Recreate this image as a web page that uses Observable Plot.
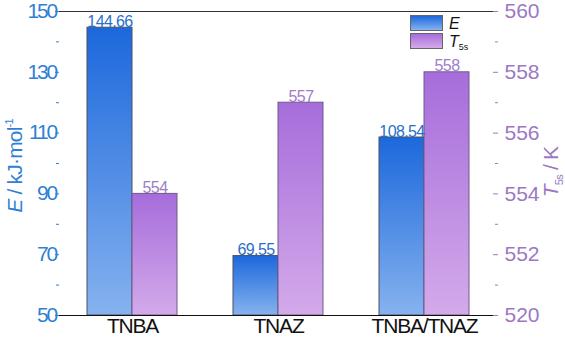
<!DOCTYPE html>
<html><head><meta charset="utf-8">
<script src="https://cdn.jsdelivr.net/npm/d3@7"></script>
<script src="https://cdn.jsdelivr.net/npm/@observablehq/plot@0.6"></script>
<style>
body{margin:0;background:#fff;font-family:"Liberation Sans",Arial,sans-serif}
#chart{position:relative;width:565px;height:339px}
#legend{position:absolute;left:410px;top:14px;font-size:16px;color:#111}
.row{display:flex;align-items:center;height:18px}
.sw{width:31px;height:14px;border:1px solid #666;margin-right:6px}
.swE{background:linear-gradient(#1c68dc,#86b2ef)}
.swT{background:linear-gradient(#a66ddb,#d4aaea)}
.lbl{font-style:italic;line-height:15px;height:15px}
.lbl sub{font-style:normal;font-size:9px;vertical-align:-3px;line-height:0}
</style></head><body><div id="chart"><div id="legend">
<div class="row"><div class="sw swE"></div><span class="lbl">E</span></div>
<div class="row"><div class="sw swT"></div><span class="lbl">T<sub>5s</sub></span></div>
</div></div>
<script>
const categories = ["TNBA", "TNAZ", "TNBA/TNAZ"];
const eValues = [144.66, 69.55, 108.54];
const tValues = [554, 557, 558];
const eLabels = ["144.66", "69.55", "108.54"];
const tLabels = ["554", "557", "558"];
const leftTicks = [50, 70, 90, 110, 130, 150];
const leftMinor = [60, 80, 100, 120, 140];
const rightTickValues = [550, 552, 554, 556, 558, 560];
const rightTickLabels = ["520", "552", "554", "556", "558", "560"];
const rightMinor = [551, 553, 555, 557, 559];

const blue = "#2f7fd6", purple = "#9c78c4";
// right axis (550–560) mapped onto the left scale (50–150)
const tToY = t => 50 + (t - 550) * 10;

const eRows = categories.map((c, i) => ({cat: c, series: "E", y: eValues[i], label: eLabels[i]}));
const tRows = categories.map((c, i) => ({cat: c, series: "T", y: tToY(tValues[i]), label: tLabels[i]}));
const rightPos = rightTickValues.map(tToY);

const chart = Plot.plot({
  width: 565, height: 339,
  marginLeft: 59, marginRight: 68, marginTop: 11, marginBottom: 24,
  style: {fontFamily: '"Liberation Sans", Arial, sans-serif', background: "transparent", overflow: "visible"},
  fx: {domain: categories, padding: 0, label: null},
  x: {domain: ["E", "T"], paddingInner: 0, paddingOuter: 0.587, axis: null},
  y: {domain: [50, 150], axis: null},
  marks: [
    Plot.barY(eRows, {fx: "cat", x: "series", y1: 50, y2: "y", fill: "url(#gE)", stroke: "#4a5060", strokeWidth: 1}),
    Plot.barY(tRows, {fx: "cat", x: "series", y1: 50, y2: "y", fill: "url(#gT)", stroke: "#6e5a8a", strokeWidth: 1}),
    Plot.text(eRows, {fx: "cat", x: "series", y: "y", text: "label", lineAnchor: "bottom", dy: -1, fill: "#2a6fcc", fontSize: 16}),
    Plot.text(tRows, {fx: "cat", x: "series", y: "y", text: "label", lineAnchor: "bottom", dy: -1, fill: "#a07cc8", fontSize: 16}),
    Plot.ruleY([150], {stroke: "#333"}),
    Plot.ruleY([50], {stroke: "#111"}),
    Plot.axisFx({anchor: "bottom", label: null, tickSize: 0, tickPadding: 3, fontSize: 21, color: "#111"}),
    Plot.axisY({anchor: "left", ticks: leftTicks, tickSize: 4, tickPadding: 0, fontSize: 21, color: blue, line: true, label: null}),
    Plot.axisY({anchor: "left", ticks: leftMinor, tickSize: 3, tickFormat: () => "", color: blue, label: null}),
    Plot.axisY({anchor: "right", ticks: rightPos, tickSize: 0, tickPadding: 7, fontSize: 21, color: purple, line: true, label: null,
      tickFormat: d => rightTickLabels[rightPos.indexOf(d)]}),
    Plot.axisY({anchor: "right", ticks: rightPos, tickSize: -5, tickFormat: () => "", color: purple, label: null}),
    Plot.axisY({anchor: "right", ticks: rightMinor.map(tToY), tickSize: -3, tickFormat: () => "", color: purple, label: null})
  ]
});

const svg = d3.select(chart);
// condense texts (the reference uses a narrow face)
const yLabelGroups = svg.selectAll('g[aria-label="y-axis tick label"]').nodes();
if (yLabelGroups[0]) d3.select(yLabelGroups[0]).attr("letter-spacing", -2.2).attr("transform", "translate(-3,0)");
if (yLabelGroups[1]) d3.select(yLabelGroups[1]).attr("letter-spacing", -1.2);
svg.selectAll('g[aria-label="fx-axis tick label"]').attr("letter-spacing", -1.2);
svg.selectAll('g[aria-label="text"]').attr("letter-spacing", -0.6);

const defs = svg.insert("defs", ":first-child");
const gE = defs.append("linearGradient").attr("id", "gE").attr("x1", 0).attr("y1", 0).attr("x2", 0).attr("y2", 1);
gE.append("stop").attr("offset", "0%").attr("stop-color", "#1c68dc");
gE.append("stop").attr("offset", "100%").attr("stop-color", "#86b2ef");
const gT = defs.append("linearGradient").attr("id", "gT").attr("x1", 0).attr("y1", 0).attr("x2", 0).attr("y2", 1);
gT.append("stop").attr("offset", "0%").attr("stop-color", "#a66ddb");
gT.append("stop").attr("offset", "100%").attr("stop-color", "#d4aaea");

const lt = svg.append("text").attr("transform", "translate(22,166) rotate(-90)")
  .attr("text-anchor", "middle").attr("fill", blue).attr("font-size", 21).attr("letter-spacing", -0.8);
lt.append("tspan").attr("font-style", "italic").text("E");
lt.append("tspan").text(" / kJ·mol");
lt.append("tspan").attr("font-size", 11).attr("dy", -9).text("-1");

const rt = svg.append("text").attr("transform", "translate(558,172) rotate(-90)")
  .attr("text-anchor", "middle").attr("fill", purple).attr("font-size", 21).attr("letter-spacing", -0.8);
rt.append("tspan").attr("font-style", "italic").text("T");
rt.append("tspan").attr("font-size", 11).attr("dy", 5).text("5s");
rt.append("tspan").attr("dy", -5).text(" / K");

document.getElementById("chart").prepend(chart);
</script></body></html>
